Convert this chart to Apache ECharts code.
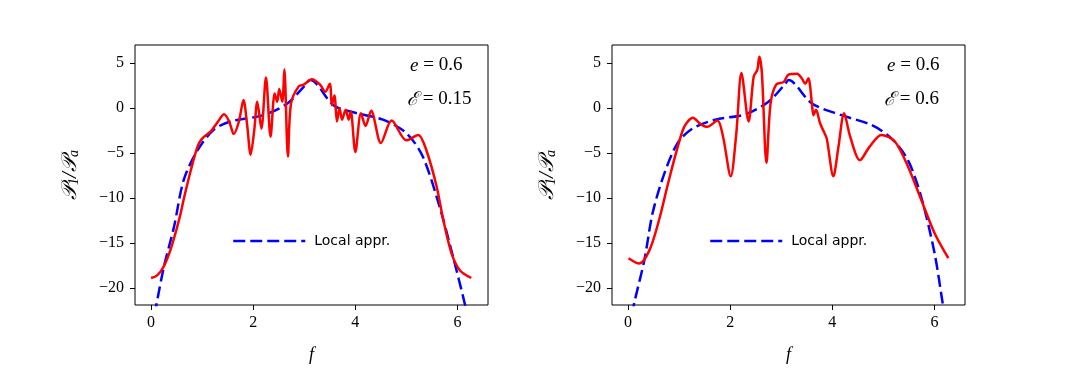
<!DOCTYPE html>
<html>
<head>
<meta charset="utf-8">
<script src="https://cdn.jsdelivr.net/npm/echarts@6/dist/echarts.min.js"></script>
<style>
  html, body { margin: 0; padding: 0; background: #fff; }
  #main { width: 1073px; height: 382px; }
</style>
</head>
<body>
<div id="main"></div>
<script>
// data: [f, P1/Pa]
var redLeft = [
  [0.00,-18.9],[0.12,-18.6],[0.25,-17.6],[0.39,-15.6],[0.55,-12.4],[0.65,-9.9],[0.78,-6.9],
  [0.91,-4.3],[1.00,-3.4],[1.17,-2.6],[1.30,-1.6],[1.43,-0.7],[1.53,-1.5],[1.62,-2.9],
  [1.72,-1.5],[1.81,0.9],[1.88,-1.8],[1.95,-5.2],[2.02,-2.5],[2.08,0.7],[2.16,-2.3],
  [2.25,3.4],[2.34,-3.2],[2.42,1.6],[2.47,0.7],[2.51,2.1],[2.57,0.7],[2.61,4.3],
  [2.68,-5.4],[2.74,0.5],[2.89,2.4],[2.99,2.6],[3.15,3.2],[3.31,2.6],[3.41,1.8],
  [3.50,2.7],[3.54,0.3],[3.59,1.4],[3.64,-1.5],[3.69,0.0],[3.74,-1.3],[3.81,-0.2],
  [3.87,-1.3],[3.91,-0.4],[4.00,-4.9],[4.11,-0.6],[4.20,-2.0],[4.31,-0.3],[4.50,-3.9],
  [4.71,-1.4],[5.00,-3.6],[5.23,-3.0],[5.39,-4.7],[5.59,-8.7],[5.72,-12.4],[5.88,-16.1],
  [6.04,-18.0],[6.27,-18.9]
];
var blueLeft = [
  [0.06,-23.0],[0.10,-22.0],[0.25,-17.7],[0.45,-13.2],[0.64,-8.0],[0.91,-4.7],[1.23,-2.4],
  [1.56,-1.5],[2.20,-0.8],[2.67,0.5],[2.98,2.3],[3.12,3.1],[3.57,0.3],[3.90,-0.4],
  [4.54,-1.3],[5.00,-2.8],[5.32,-5.4],[5.65,-11.0],[5.91,-16.5],[6.14,-21.7],[6.18,-23.0]
];
var redRight = [
  [0.01,-16.7],[0.22,-17.3],[0.42,-15.8],[0.61,-12.4],[0.77,-8.7],[0.94,-5.0],[1.10,-2.1],
  [1.27,-1.1],[1.42,-1.8],[1.55,-2.1],[1.75,-1.4],[1.86,-3.2],[2.01,-7.6],[2.12,-2.8],
  [2.22,3.9],[2.36,-1.5],[2.46,3.5],[2.53,4.2],[2.57,5.7],[2.62,3.9],[2.71,-6.1],
  [2.79,0.5],[2.90,2.6],[3.05,2.9],[3.14,3.7],[3.31,3.8],[3.40,3.3],[3.47,2.7],[3.53,3.3],
  [3.60,0.5],[3.63,-0.8],[3.68,-0.2],[3.76,-1.7],[3.83,-2.6],[3.89,-3.4],[4.02,-7.6],
  [4.12,-4.3],[4.23,-0.6],[4.35,-3.2],[4.54,-5.8],[4.73,-4.3],[4.96,-3.0],[5.22,-3.7],
  [5.48,-6.5],[5.74,-10.2],[6.00,-13.9],[6.27,-16.7]
];
var blueRight = [
  [0.08,-23.0],[0.12,-21.7],[0.32,-16.9],[0.48,-11.7],[0.71,-7.3],[0.97,-3.9],[1.26,-2.3],
  [1.71,-1.3],[2.30,-0.7],[2.75,0.7],[3.08,2.7],[3.14,3.1],[3.60,0.5],[4.18,-0.8],
  [4.77,-1.9],[5.16,-3.4],[5.48,-5.8],[5.74,-9.9],[6.00,-16.1],[6.16,-21.7],[6.20,-23.0]
];
var xTicks = [0, 2, 4, 6];
var yTicks = [-20, -15, -10, -5, 0, 5];
var eLabels = ['0.6', '0.6'];
var calELabels = ['0.15', '0.6'];

var serif = 'Liberation Serif';
var gridLefts = [135, 612];

function minus(v) {
  return String(v).replace('-', '\u2212');
}

var grids = [], xAxes = [], yAxes = [], series = [], legends = [], graphics = [];
[[redLeft, blueLeft], [redRight, blueRight]].forEach(function (pair, i) {
  grids.push({
    left: gridLefts[i], top: 45, width: 353, height: 260,
    show: true, borderColor: '#000', borderWidth: 1, backgroundColor: '#fff'
  });
  xAxes.push({
    type: 'value', gridIndex: i, min: -0.314, max: 6.597,
    name: 'f', nameLocation: 'middle', nameGap: 41,
    nameTextStyle: { fontFamily: serif, fontStyle: 'italic', fontSize: 18, color: '#000' },
    axisLine: { show: false, onZero: false },
    axisTick: { show: true, length: 5, customValues: xTicks, lineStyle: { color: '#000' } },
    axisLabel: { customValues: xTicks, margin: 10, fontFamily: serif, fontSize: 16, color: '#000' },
    splitLine: { show: false }
  });
  yAxes.push({
    type: 'value', gridIndex: i, min: -21.9, max: 7.0,
    name: '{p|\uD835\uDCAB}{s|1}{p|/\uD835\uDCAB}{s|a}', nameLocation: 'middle', nameGap: 54, nameRotate: 90,
    nameTextStyle: {
      color: '#000',
      rich: {
        p: { fontFamily: serif, fontStyle: 'italic', fontSize: 21, color: '#000' },
        s: { fontFamily: serif, fontStyle: 'italic', fontSize: 14, color: '#000', padding: [8, 0, 0, 0] }
      }
    },
    axisLine: { show: false, onZero: false },
    axisTick: { show: true, length: 5, customValues: yTicks, lineStyle: { color: '#000' } },
    axisLabel: {
      customValues: yTicks, margin: 11, fontFamily: serif, fontSize: 16, color: '#000',
      formatter: minus
    },
    splitLine: { show: false }
  });
  series.push({
    type: 'line', xAxisIndex: i, yAxisIndex: i, data: pair[0],
    showSymbol: false, symbol: 'none', smooth: 0.3, z: 3,
    lineStyle: { color: '#ff0000', width: 2.5 }
  });
  series.push({
    name: 'Local appr.', type: 'line', xAxisIndex: i, yAxisIndex: i, data: pair[1],
    showSymbol: false, symbol: 'none', smooth: 0.3, z: 2,
    lineStyle: { color: '#0000ff', width: 2.5, type: [12, 5] },
    itemStyle: { color: '#0000ff' }
  });
  legends.push({
    left: gridLefts[i] + 92, top: 229, data: ['Local appr.'],
    itemWidth: 72, itemHeight: 16, selectedMode: false,
    itemStyle: { opacity: 0 },
    lineStyle: { color: '#0000ff', width: 2.5, type: [12, 5], opacity: 1 },
    textStyle: { fontFamily: 'DejaVu Sans', fontSize: 14, color: '#000', padding: [0, 0, 0, 4] }
  });
  graphics.push({
    type: 'text', left: gridLefts[i] + 275, top: 56,
    style: {
      text: '{i|e} = ' + eLabels[i],
      font: '19px "' + serif + '"', fill: '#000',
      rich: { i: { fontFamily: serif, fontStyle: 'italic', fontSize: 19, fill: '#000' } }
    }
  });
  graphics.push({
    type: 'text', left: gridLefts[i] + 272, top: 90,
    style: {
      text: '{i|\u2130} = ' + calELabels[i],
      font: '19px "' + serif + '"', fill: '#000',
      rich: { i: { fontFamily: serif, fontStyle: 'italic', fontSize: 19, fill: '#000' } }
    }
  });
});

var myChart = echarts.init(document.getElementById('main'));
myChart.setOption({
  animation: false,
  backgroundColor: '#fff',
  grid: grids,
  xAxis: xAxes,
  yAxis: yAxes,
  legend: legends,
  series: series,
  graphic: graphics
});
</script>
</body>
</html>
